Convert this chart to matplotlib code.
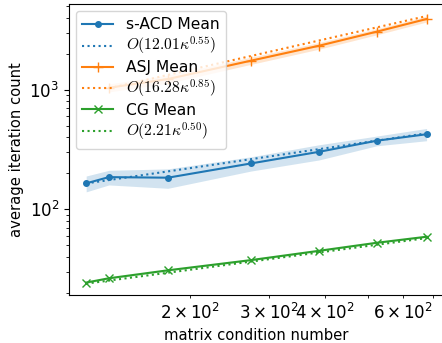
import matplotlib
matplotlib.use("Agg")
import matplotlib.pyplot as plt
import numpy as np

plt.rcParams['mathtext.fontset'] = 'cm'
plt.rcParams['font.size'] = 10.6
plt.rcParams['xtick.labelsize'] = 12
plt.rcParams['ytick.labelsize'] = 12

kappa = [116.9, 131.4, 178.2, 273.2, 388.5, 522.5, 676.0]

sacd_mean = [165, 186, 184, 242, 303, 375, 425]
sacd_std = [25, 26, 34, 33, 44, 35, 50]
sacd_fit_c, sacd_fit_p = 12.01, 0.55

asj_kappa = [131.4, 178.2, 273.2, 388.5, 522.5, 676.0]
asj_mean = [1040, 1231, 1752, 2339, 3064, 3913]
asj_std = [80, 95, 120, 150, 180, 220]
asj_fit_c, asj_fit_p = 16.28, 0.85

cg_mean = [24.4, 26.5, 30.9, 37.6, 45.0, 52.5, 59.0]
cg_std = [0.4, 0.4, 0.5, 0.5, 0.6, 0.6, 0.7]
cg_fit_c, cg_fit_p = 2.21, 0.50

fig = plt.figure(figsize=(4.42, 3.43), dpi=100)
ax = fig.add_axes([69/442, 1-295/343, (443.6-69)/442, (295-4)/343])

def draw(x, mean, std, c, p, color, marker, ms, label, flabel):
    x = np.array(x); m = np.array(mean); s = np.array(std)
    ax.plot(x, m, color=color, marker=marker, markersize=ms, label=label)
    ax.fill_between(x, m - s, m + s, color=color, alpha=0.2, linewidth=0)
    ax.plot(x, c * x ** p, color=color, linestyle=':', label=flabel)

draw(kappa, sacd_mean, sacd_std, sacd_fit_c, sacd_fit_p, '#1f77b4', 'o', 4,
     's-ACD Mean', r'$O(12.01\kappa^{0.55})$')
draw(asj_kappa, asj_mean, asj_std, asj_fit_c, asj_fit_p, '#ff7f0e', '+', 7,
     'ASJ Mean', r'$O(16.28\kappa^{0.85})$')
draw(kappa, cg_mean, cg_std, cg_fit_c, cg_fit_p, '#2ca02c', 'x', 6,
     'CG Mean', r'$O(2.21\kappa^{0.50})$')

ax.set_xscale('log')
ax.set_yscale('log')
ax.set_xlim(107, 738)
ax.set_ylim(19.2, 5224)
ax.set_xlabel('matrix condition number')
ax.set_ylabel('average iteration count')
ax.legend(loc='upper left', fontsize=11.2, labelspacing=0.18, handlelength=2.0,
          borderaxespad=0.45)

fig.savefig('out.png', dpi=100)
